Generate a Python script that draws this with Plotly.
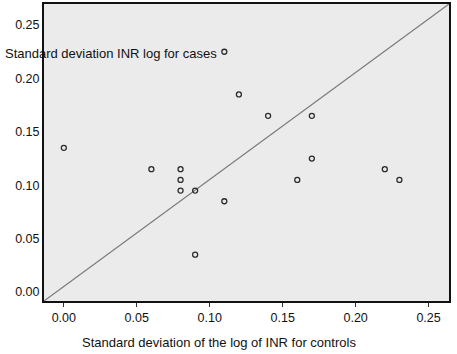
import plotly.graph_objects as go

# Data
sd_controls = [0.00, 0.06, 0.08, 0.08, 0.08, 0.09, 0.09, 0.11, 0.11, 0.12, 0.14, 0.17, 0.17, 0.16, 0.22, 0.23]
sd_cases    = [0.135, 0.115, 0.115, 0.105, 0.095, 0.095, 0.035, 0.085, 0.225, 0.185, 0.165, 0.165, 0.125, 0.105, 0.115, 0.105]

x_ticks = [0.00, 0.05, 0.10, 0.15, 0.20, 0.25]
y_ticks = [0.00, 0.05, 0.10, 0.15, 0.20, 0.25]
x_tick_labels = ["0.00", "0.05", "0.10", "0.15", "0.20", "0.25"]
y_tick_labels = ["0.00", "0.05", "0.10", "0.15", "0.20", "0.25"]

X_RANGE = [-0.0136, 0.264]
Y_RANGE = [-0.0084, 0.2697]

y_title = "Standard deviation INR log for cases"
x_title = "Standard deviation of the log of INR for controls"

FONT = "Liberation Sans, Arial, sans-serif"
TXT = "#111111"

L, R, T, B = 44, 8, 4, 53
W, H = 457, 354
PW, PH = W - L - R, H - T - B

fig = go.Figure()

# reference diagonal across the plot area
fig.add_trace(go.Scatter(
    x=[X_RANGE[0], X_RANGE[1]], y=[Y_RANGE[0], Y_RANGE[1]],
    mode="lines", line=dict(color="#7a7a7a", width=1.2),
    hoverinfo="skip", showlegend=False,
))

fig.add_trace(go.Scatter(
    x=sd_controls, y=sd_cases, mode="markers",
    marker=dict(symbol="circle-open", size=5, color="#2a2a2a", line=dict(width=1.3)),
    showlegend=False,
))

fig.update_layout(
    width=W, height=H,
    margin=dict(l=L, r=R, t=T, b=B),
    paper_bgcolor="white",
    plot_bgcolor="#ebebeb",
    font=dict(family=FONT, size=12, color=TXT),
    xaxis=dict(
        range=X_RANGE, tickvals=x_ticks, ticktext=x_tick_labels,
        showgrid=False, zeroline=False, automargin=False,
        showline=True, linecolor="#111", linewidth=2, mirror=True,
        ticks="outside", ticklen=4, tickcolor="#333", tickwidth=1,
        tickfont=dict(family=FONT, size=12.5, color=TXT),
    ),
    yaxis=dict(
        range=Y_RANGE, tickvals=y_ticks, ticktext=y_tick_labels,
        showgrid=False, zeroline=False, automargin=False,
        showline=True, linecolor="#111", linewidth=2, mirror=True,
        ticks="", ticklabelstandoff=0,
        tickfont=dict(family=FONT, size=12.5, color=TXT),
    ),
    annotations=[
        dict(text=y_title, xref="paper", yref="paper",
             x=(3 - L) / PW, y=(H - B - 53) / PH,
             xanchor="left", yanchor="middle", showarrow=False,
             font=dict(family=FONT, size=13, color=TXT)),
        dict(text=x_title, xref="paper", yref="paper",
             x=(219 - L) / PW, y=-(342.7 - (H - B)) / PH,
             xanchor="center", yanchor="middle", showarrow=False,
             font=dict(family=FONT, size=13, color=TXT)),
    ],
)

fig.write_html("out.html", config={"displayModeBar": False},
               post_script="document.body.style.margin='0';")
